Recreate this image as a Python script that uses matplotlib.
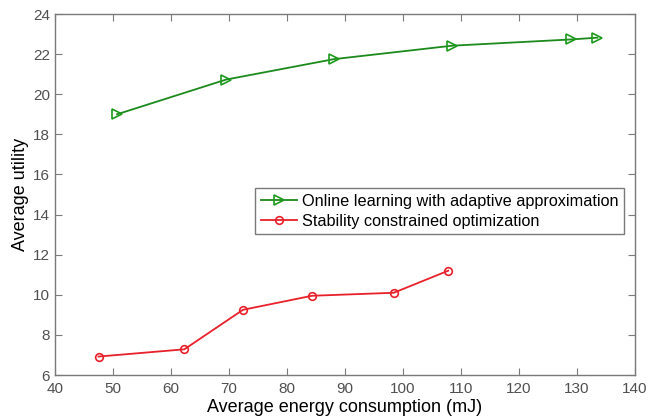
import matplotlib
matplotlib.use("Agg")
import matplotlib.pyplot as plt

# Values
online_energy = [50.7, 69.5, 88.1, 108.5, 128.9, 133.5]
online_utility = [19.0, 20.73, 21.75, 22.42, 22.73, 22.82]

stable_energy = [47.5, 62.3, 72.4, 84.3, 98.4, 107.8]
stable_utility = [6.92, 7.28, 9.25, 9.95, 10.1, 11.2]

x_ticks = list(range(40, 141, 10))
y_ticks = list(range(6, 25, 2))

plt.rcParams["font.family"] = ["Liberation Sans", "DejaVu Sans"]

fig = plt.figure(figsize=(6.6, 4.19), dpi=100)
ax = fig.add_axes([55 / 660, 44 / 419, 580 / 660, 361 / 419])

ax.plot(online_energy, online_utility, color="#1c8a1c", linewidth=1.3,
        marker=">", markersize=7, markerfacecolor="none",
        markeredgecolor="#1c9a1c", markeredgewidth=1.2,
        label="Online learning with adaptive approximation")
ax.plot(stable_energy, stable_utility, color="#e8202a", linewidth=1.3,
        marker="o", markersize=5.5, markerfacecolor="none",
        markeredgecolor="#e8202a", markeredgewidth=1.2,
        label="Stability constrained optimization")

ax.set_xlim(40, 140)
ax.set_ylim(6, 24)
ax.set_xticks(x_ticks)
ax.set_yticks(y_ticks)

for s in ax.spines.values():
    s.set_color("#7a7a7a")
    s.set_linewidth(1.0)
ax.tick_params(direction="in", top=True, right=True, length=5,
               color="#7a7a7a", labelsize=11, labelcolor="#505050")
ax.tick_params(axis="x", pad=5)
ax.tick_params(axis="y", pad=3.5)

ax.set_xlabel("Average energy consumption (mJ)", fontsize=13, labelpad=2.5)
ax.set_ylabel("Average utility", fontsize=13, labelpad=3)

leg = ax.legend(loc="upper right", bbox_to_anchor=(0.981, 0.518),
                fontsize=11.7, fancybox=False, framealpha=1,
                edgecolor="#7a7a7a", handlelength=2.2, handletextpad=0.3,
                borderpad=0.35, labelspacing=0.3, borderaxespad=0)
leg.get_frame().set_linewidth(1.0)

fig.savefig("out.png", dpi=100)
